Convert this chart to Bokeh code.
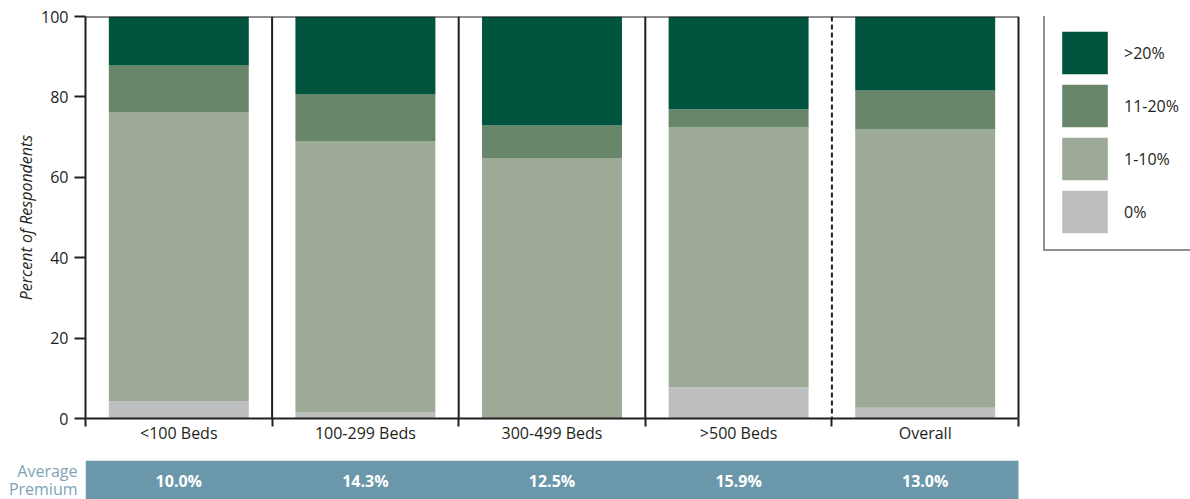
from bokeh.plotting import figure
from bokeh.models import Range1d, FixedTicker, Legend, LegendItem, ColumnDataSource, Span
from bokeh.layouts import column
from bokeh.embed import file_html
from bokeh.resources import INLINE
from bokeh.core.properties import value

# ---- data ----
categories = ["<100 Beds", "100-299 Beds", "300-499 Beds", ">500 Beds", "Overall"]
series_names = ["0%", "1-10%", "11-20%", ">20%"]
pct_0 = [4.2, 1.5, 0.0, 7.7, 2.7]
pct_1_10 = [71.9, 67.4, 64.7, 64.7, 69.2]
pct_11_20 = [11.7, 11.7, 8.2, 4.5, 9.7]
pct_over_20 = [12.2, 19.4, 27.1, 23.1, 18.4]
avg_premium = ["10.0%", "14.3%", "12.5%", "15.9%", "13.0%"]
y_ticks = [0, 20, 40, 60, 80, 100]

colors = ["#bcbec0", "#9eaa98", "#67866a", "#00533c"]
DARK = "#231f20"
FONT = "Open Sans"

n = len(categories)
xs = [i + 0.5 for i in range(n)]
keys = ["s0", "s1", "s2", "s3"]
src = ColumnDataSource(dict(x=xs, cat=categories, s0=pct_0, s1=pct_1_10, s2=pct_11_20, s3=pct_over_20))

# layout constants (pixels)
W = 1190
LEFT = 85
BARS_W = 933            # width of the bar area
x_end = n * (W - LEFT) / BARS_W   # frame extends to the right edge to host the legend

xr = Range1d(0, x_end)
p = figure(width=W, height=460, x_range=xr, y_range=Range1d(0, y_ticks[-1]),
           output_backend="svg", toolbar_location=None,
           min_border_left=LEFT, min_border_right=0, min_border_top=16, min_border_bottom=42)
p.background_fill_color = "white"
p.border_fill_color = "white"
p.outline_line_color = None
p.xgrid.visible = False
p.ygrid.visible = False

rs = p.vbar_stack(keys, x="x", width=0.75, source=src, fill_color=colors, line_color=None)

# separators and right border
for i in range(1, n + 1):
    dashed = (i == n - 1)
    p.add_layout(Span(location=i, dimension="height", line_color=DARK, line_width=2,
                      line_dash="5 3" if dashed else "solid"))
# top border
p.segment(x0=[0], x1=[n], y0=[y_ticks[-1]], y1=[y_ticks[-1]], line_color=DARK, line_width=2)

# y axis
p.yaxis.ticker = FixedTicker(ticks=y_ticks, minor_ticks=[])
p.yaxis.major_tick_out = 11
p.yaxis.major_tick_in = 0
p.yaxis.minor_tick_out = 0
p.yaxis.minor_tick_in = 0
p.yaxis.major_tick_line_width = 2
p.yaxis.major_tick_line_color = DARK
p.yaxis.axis_line_width = 2
p.yaxis.axis_line_color = DARK
p.yaxis.major_label_text_font = FONT
p.yaxis.major_label_text_font_size = "16px"
p.yaxis.major_label_text_color = DARK
p.yaxis.major_label_standoff = 6
p.yaxis.axis_label = "Percent of Respondents"
p.yaxis.axis_label_text_font = FONT
p.yaxis.axis_label_text_font_style = "italic"
p.yaxis.axis_label_text_font_size = "16px"
p.yaxis.axis_label_text_color = DARK
p.yaxis.axis_label_standoff = 1

# x axis
p.xaxis.bounds = (0, n)
p.xaxis.ticker = FixedTicker(ticks=xs, minor_ticks=list(range(n + 1)))
p.xaxis.major_label_overrides = {x: c for x, c in zip(xs, categories)}
p.xaxis.major_tick_out = 0
p.xaxis.major_tick_in = 0
p.xaxis.minor_tick_out = 8
p.xaxis.minor_tick_in = 0
p.xaxis.minor_tick_line_width = 2
p.xaxis.minor_tick_line_color = DARK
p.xaxis.axis_line_width = 2
p.xaxis.axis_line_color = DARK
p.xaxis.major_label_text_font = FONT
p.xaxis.major_label_text_font_size = "16px"
p.xaxis.major_label_text_color = DARK
p.xaxis.major_label_standoff = -5

legend = Legend(
    items=[LegendItem(label=series_names[i], renderers=[rs[i]]) for i in reversed(range(len(keys)))],
    location=(958, 167), glyph_width=57, glyph_height=53, spacing=0, padding=11, margin=0,
    label_standoff=11, label_width=90, border_line_color=DARK, border_line_width=2.5,
    label_text_font=FONT, label_text_font_size="16px", label_text_color=DARK,
    background_fill_color="white", background_fill_alpha=1.0,
)
p.add_layout(legend)

# ---- average premium band ----
BH = 39
pb = figure(width=W, height=BH, x_range=xr, y_range=Range1d(0, BH),
            output_backend="svg", toolbar_location=None,
            x_axis_location=None, y_axis_location="left",
            min_border_left=LEFT, min_border_right=0, min_border_top=0, min_border_bottom=0)
pb.outline_line_color = None
pb.xgrid.visible = False
pb.ygrid.visible = False
pb.background_fill_color = "white"
pb.border_fill_color = "white"
pb.yaxis.ticker = FixedTicker(ticks=[], minor_ticks=[])
pb.yaxis.axis_line_color = None
pb.yaxis.major_tick_line_color = None
pb.yaxis.minor_tick_line_color = None
pb.yaxis.major_label_text_font_size = "0px"
pb.yaxis.axis_label = "Average\nPremium"
pb.yaxis.axis_label_orientation = "horizontal"
pb.yaxis.axis_label_text_font = FONT
pb.yaxis.axis_label_text_font_style = "normal"
pb.yaxis.axis_label_text_font_size = "16px"
pb.yaxis.axis_label_text_line_height = 0.85
pb.yaxis.axis_label_text_color = "#7da4b7"
pb.yaxis.axis_label_standoff = 8
pb.quad(left=0, right=n, bottom=0, top=BH, fill_color="#6a98aa", line_color=None)
pb.text(x=xs, y=[19] * n, text=avg_premium, text_color="white", text_font=value(FONT),
        text_font_style="bold", text_font_size="16px", text_align="center", text_baseline="middle")

layout = column(p, pb, spacing=0)
open("out.html", "w").write(file_html(layout, INLINE))
